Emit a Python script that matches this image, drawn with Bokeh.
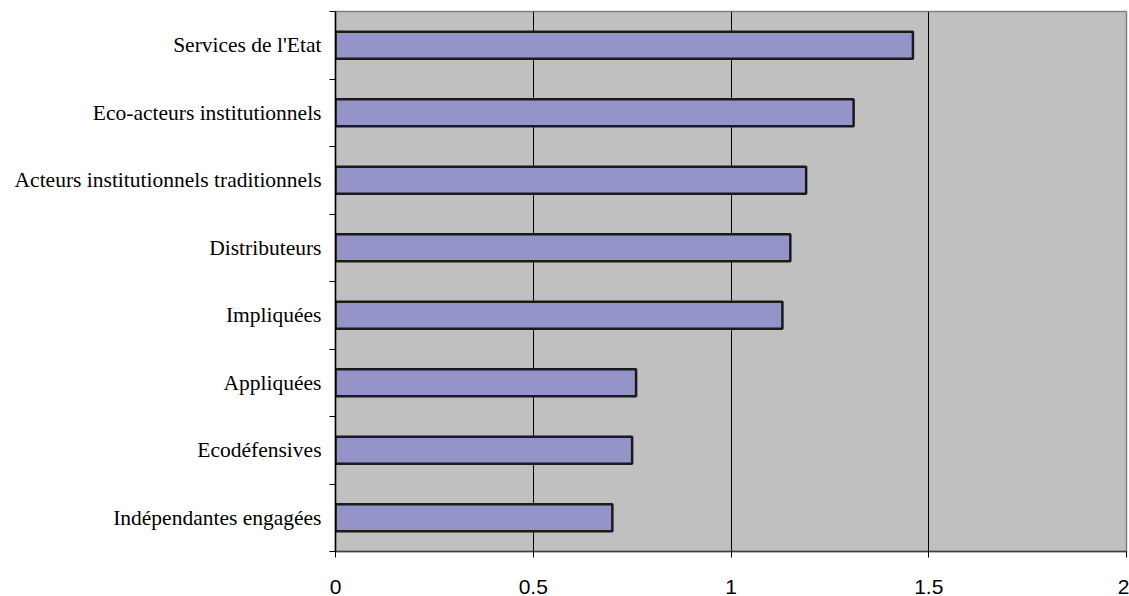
from bokeh.plotting import figure
from bokeh.models import FixedTicker, ColumnDataSource, Range1d
from bokeh.embed import file_html
from bokeh.resources import INLINE

categories = ["Indépendantes engagées", "Ecodéfensives", "Appliquées", "Impliquées",
              "Distributeurs", "Acteurs institutionnels traditionnels",
              "Eco-acteurs institutionnels", "Services de l'Etat"]
values = [0.70, 0.75, 0.76, 1.13, 1.15, 1.19, 1.31, 1.46]
x_ticks = [0, 0.5, 1, 1.5, 2]
x_tick_labels = ["0", "0.5", "1", "1.5", "2"]

n = len(categories)
centers = [i + 0.5 for i in range(n)]
src = ColumnDataSource(dict(y=centers, right=values))

p = figure(width=1129, height=596, output_backend="svg", toolbar_location=None,
           x_range=Range1d(0, 2), y_range=Range1d(0, n),
           min_border_left=335, min_border_right=3, min_border_top=11, min_border_bottom=45)

p.background_fill_color = "#C0C0C0"
p.border_fill_color = "white"
p.outline_line_color = "#808080"
p.outline_line_width = 1.5

p.hbar(y="y", left=0, right="right", height=0.4, source=src,
       fill_color="#9494C8", line_color="#1a1a1a", line_width=2.5)

# x axis
p.xaxis.ticker = FixedTicker(ticks=x_ticks, minor_ticks=[])
p.xaxis.major_label_overrides = {t: l for t, l in zip(x_ticks, x_tick_labels)}
p.xaxis.major_label_text_font = "Liberation Sans"
p.xaxis.major_label_text_font_size = "21px"
p.xaxis.major_label_text_color = "black"
p.xaxis.major_tick_in = 0
p.xaxis.major_tick_out = 6
p.xaxis.major_label_standoff = 22
p.xaxis.axis_line_color = "#404040"
p.xaxis.axis_line_width = 1.5

# y axis
p.yaxis.ticker = FixedTicker(ticks=centers, minor_ticks=list(range(n + 1)))
p.yaxis.major_label_overrides = {c: l for c, l in zip(centers, categories)}
p.yaxis.major_label_text_font = "Liberation Serif"
p.yaxis.major_label_text_font_size = "21.5px"
p.yaxis.major_label_text_color = "black"
p.yaxis.major_tick_in = 0
p.yaxis.major_tick_out = 0
p.yaxis.minor_tick_in = 0
p.yaxis.minor_tick_out = 6
p.yaxis.minor_tick_line_color = "black"
p.yaxis.major_label_standoff = 8
p.yaxis.axis_line_color = "black"
p.yaxis.axis_line_width = 1.5

p.xgrid.grid_line_color = "black"
p.xgrid.grid_line_width = 1
p.ygrid.grid_line_color = None

open("out.html", "w").write(file_html(p, INLINE))
